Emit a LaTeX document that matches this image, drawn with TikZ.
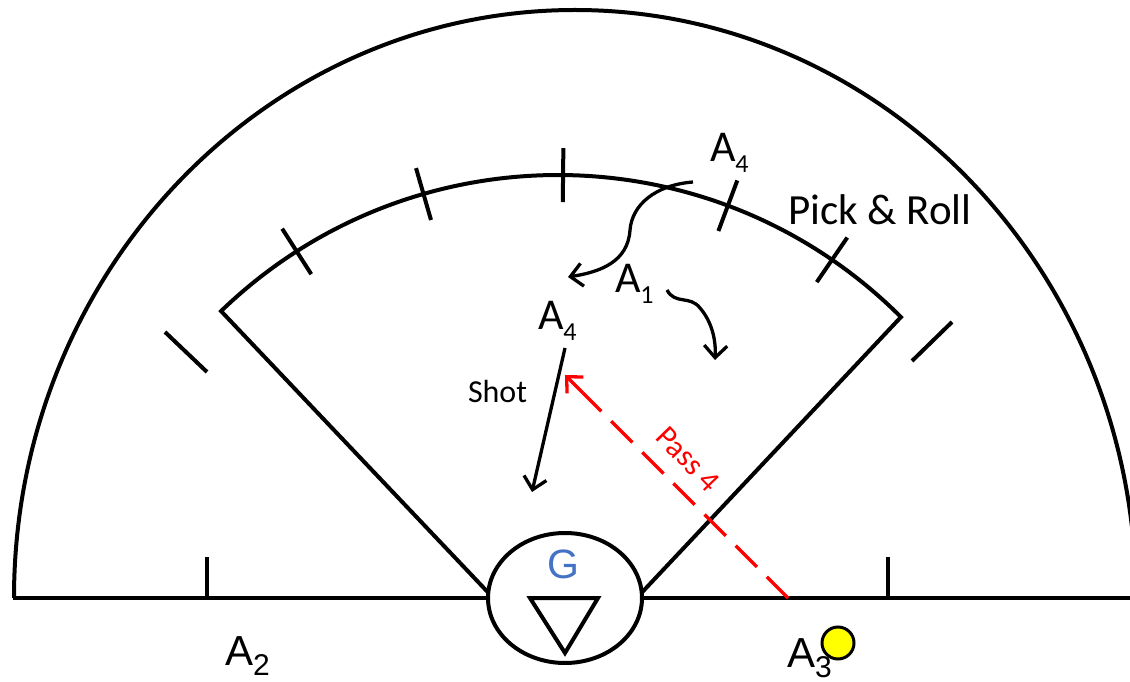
\documentclass[tikz,border=0pt]{standalone}
\usepackage{fontspec}
\usetikzlibrary{arrows.meta,shapes.geometric}
\newfontfamily\myCal{Carlito}
\newfontfamily\myAri{Liberation Sans}
\definecolor{gblue}{RGB}{68,114,196}
\definecolor{pred}{RGB}{255,0,0}
\definecolor{ballyel}{RGB}{255,255,0}
\newcommand{\Acal}[1]{{\myCal\fontsize{44}{44}\selectfont A\raisebox{-11pt}{\fontsize{26}{26}\selectfont #1}}}
\newcommand{\Aari}[1]{{\myAri\fontsize{42}{42}\selectfont A\raisebox{-10pt}{\fontsize{30}{30}\selectfont #1}}}
\begin{document}
\begin{tikzpicture}[x=1pt,y=1pt,
  court/.style={line width=4pt,line join=miter},
  ticksty/.style={line width=4pt},
  mov/.style={line width=3.3pt,-{Straight Barb[length=12pt,width=23pt,line width=3.3pt]}},
  pass/.style={pred,line width=3.5pt,dash pattern=on 30pt off 14pt},
  passtip/.style={pred,line width=3.5pt,solid,-{Straight Barb[length=12pt,width=23pt,line width=3.3pt]}},
  lbl/.style={inner sep=0pt,outer sep=0pt,anchor=base west}]
\useasboundingbox (0,0) rectangle (1130,681);
% outer arc and baseline
\draw[court] (1136,83) arc[start angle=0,end angle=180,x radius=561,y radius=588];
\node[draw,ellipse,line width=4pt,minimum width=154pt,minimum height=130pt,inner sep=0pt,outer sep=0pt] (g) at (565,83) {};
\draw[court] (13,83) -- (g.west);
\draw[court] (g.east) -- (1130,83);
% sector
\coordinate (lc) at ([shift={(558,21)}]134:485);
\draw[court] (g.176) -- (lc) arc[start angle=134,end angle=45,radius=485] -- (g.4);
\foreach \a in {55.6,69.5,89.4,106.1,122.6}
  \draw[ticksty,shift={(558,21)}] (\a:458) -- (\a:512);
% outer slashes
\coordinate (s1a) at (165,349); \coordinate (s1b) at (207,309);
\coordinate (s2a) at (952,359); \coordinate (s2b) at (912,320);
\draw[ticksty] (s1a) -- (s1b);
\draw[ticksty] (s2a) -- (s2b);
% baseline ticks
\draw[ticksty] (207,81) -- (207,124);
\draw[ticksty] (888,81) -- (888,124);
% goal triangle
\coordinate (t1) at (530,83); \coordinate (t2) at (598,83); \coordinate (t3) at (565,28);
\draw[court] (t1) -- (t2) -- (t3) -- cycle;
\node[anchor=base,inner sep=0pt,text=gblue] (gl) at (563,103) {\myAri\fontsize{41}{41}\selectfont G};
% labels
\node[lbl] (a4top) at (710,519) {\Acal{4}};
\node[lbl] (a1) at (615,388) {\Acal{1}};
\node[lbl] (a4mid) at (538,351) {\Acal{4}};
\node[lbl] (a2) at (225,16) {\Aari{2}};
\node[lbl] (a3) at (787,14) {\Aari{3}};
\node[lbl] (pr) at (788,456) {\myCal\fontsize{43}{43}\selectfont Pick \& Roll};
\node[lbl] (shot) at (468,279) {\myCal\fontsize{32}{32}\selectfont Shot};
\node[inner sep=0pt,text=pred,rotate=-46] (p4) at (688,222) {\myCal\fontsize{31}{31}\selectfont Pass 4};
% movements
\coordinate (m1s) at (693,499); \coordinate (m1e) at (568,404);
\draw[mov] (m1s) .. controls (655,496) and (632,476) .. (630,451) .. controls (628,419) and (600,409) .. (m1e);
\coordinate (m2s) at (667,391); \coordinate (m2e) at (715,321);
\draw[mov] (m2s) .. controls (675,376) and (690,386) .. (700,373) .. controls (712,359) and (716,341) .. (m2e);
\coordinate (sh1) at (565,333); \coordinate (sh2) at (532,189);
\draw[mov] (sh1) -- (sh2);
\coordinate (ps1) at (788,83); \coordinate (ps2) at (565,306); \coordinate (ps3) at (583,288);
\draw[pass] (ps1) -- (ps3);
\draw[passtip] (ps3) -- (ps2);
% ball
\node[circle,draw,line width=3pt,fill=ballyel,minimum size=32pt,inner sep=0pt] (ball) at (838,38) {};
\end{tikzpicture}
\end{document}
